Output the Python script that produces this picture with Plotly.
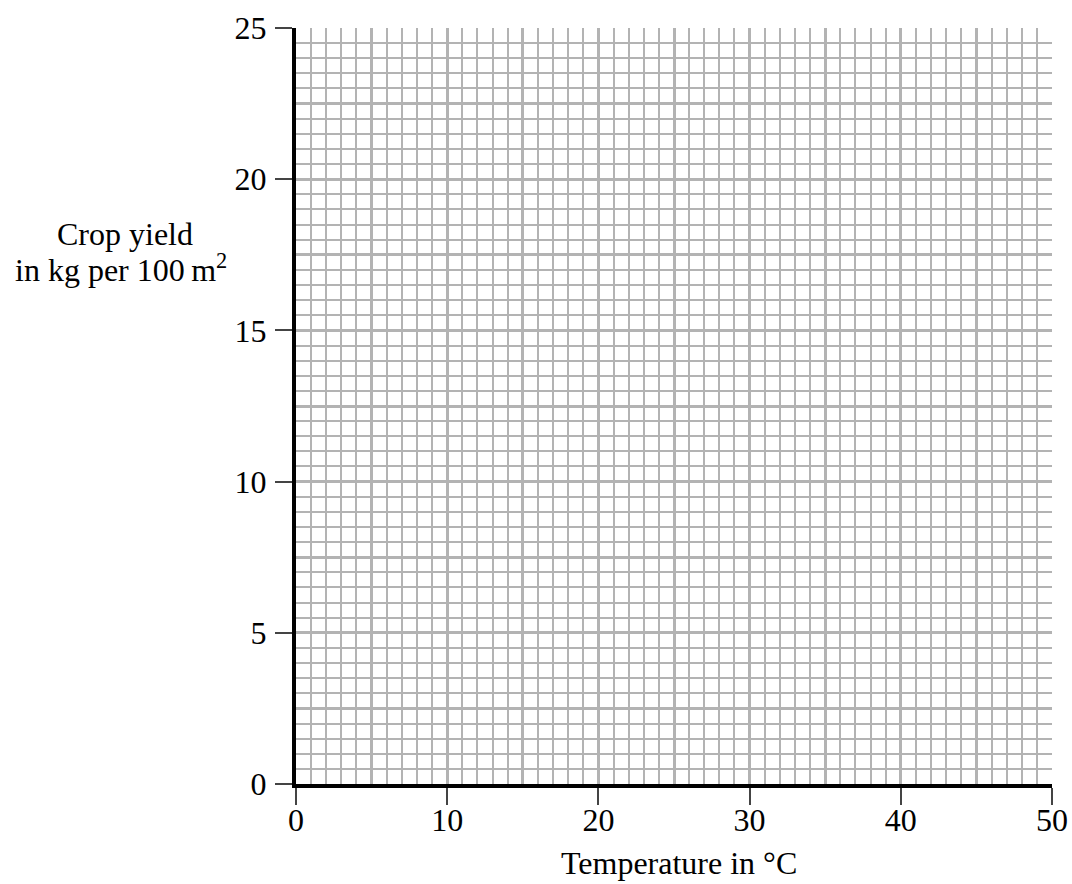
import plotly.graph_objects as go

# Chart content: an empty graph grid (no plotted data)
x_range = [0, 50]
y_range = [0, 25]
x_tick_values = [0, 10, 20, 30, 40, 50]
x_tick_labels = ["0", "10", "20", "30", "40", "50"]
y_tick_values = [0, 5, 10, 15, 20, 25]
y_tick_labels = ["0", "5", "10", "15", "20", "25"]
x_title = "Temperature in °C"
y_title_lines = ["Crop yield", "in kg per 100\u2009m<sup>2</sup>"]
series_x = []
series_y = []

FONT = "Liberation Serif"
FS = 32
GRID = "#b3b3b3"

fig = go.Figure()
fig.add_trace(go.Scatter(x=series_x, y=series_y, mode="markers", xaxis="x", yaxis="y",
                         showlegend=False))
fig.add_trace(go.Scatter(x=series_x, y=series_y, mode="markers", xaxis="x2", yaxis="y2",
                         showlegend=False))

fig.update_layout(
    width=1072, height=884,
    margin=dict(l=296, r=20, t=28, b=100),
    paper_bgcolor="white", plot_bgcolor="white",
    font=dict(family=FONT, size=FS, color="black"),
    xaxis=dict(range=x_range, tickmode="linear", tick0=0, dtick=5,
               showgrid=True, gridcolor=GRID, gridwidth=3,
               minor=dict(dtick=1, showgrid=True, gridcolor=GRID, gridwidth=2),
               showticklabels=False, ticks="", zeroline=False, showline=False,
               automargin=False),
    yaxis=dict(range=y_range, tickmode="linear", tick0=0, dtick=2.5,
               showgrid=True, gridcolor=GRID, gridwidth=3,
               minor=dict(dtick=0.5, showgrid=True, gridcolor=GRID, gridwidth=2),
               showticklabels=False, ticks="", zeroline=False, showline=False,
               automargin=False),
    xaxis2=dict(range=x_range, overlaying="x", side="bottom", anchor="y2",
                tickmode="array", tickvals=x_tick_values, ticktext=x_tick_labels,
                ticks="outside", ticklen=17, tickwidth=1.5, tickcolor="#444",
                showgrid=False, zeroline=False,
                showline=True, linecolor="black", linewidth=4,
                tickfont=dict(family=FONT, size=FS), ticklabelstandoff=-12,
                automargin=False),
    yaxis2=dict(range=y_range, overlaying="y", side="left", anchor="x2",
                tickmode="array", tickvals=y_tick_values, ticktext=y_tick_labels,
                ticks="outside", ticklen=17, tickwidth=1.5, tickcolor="#444",
                showgrid=False, zeroline=False,
                showline=True, linecolor="black", linewidth=4,
                tickfont=dict(family=FONT, size=FS), ticklabelstandoff=2,
                automargin=False),
    annotations=[
        dict(text=y_title_lines[0], xref="paper", yref="paper", x=-0.226, y=0.727,
             xanchor="center", yanchor="middle", showarrow=False,
             font=dict(family=FONT, size=FS)),
        dict(text=y_title_lines[1], xref="paper", yref="paper", x=-0.231, y=0.682,
             xanchor="center", yanchor="middle", showarrow=False,
             font=dict(family=FONT, size=FS)),
        dict(text=x_title, xref="paper", yref="paper", x=0.5066, y=-0.1045,
             xanchor="center", yanchor="middle", showarrow=False,
             font=dict(family=FONT, size=FS)),
    ],
)

fig.write_html(
    "out.html",
    config={"displayModeBar": False},
    post_script="document.body.style.margin='0';document.body.style.overflow='hidden';",
)
